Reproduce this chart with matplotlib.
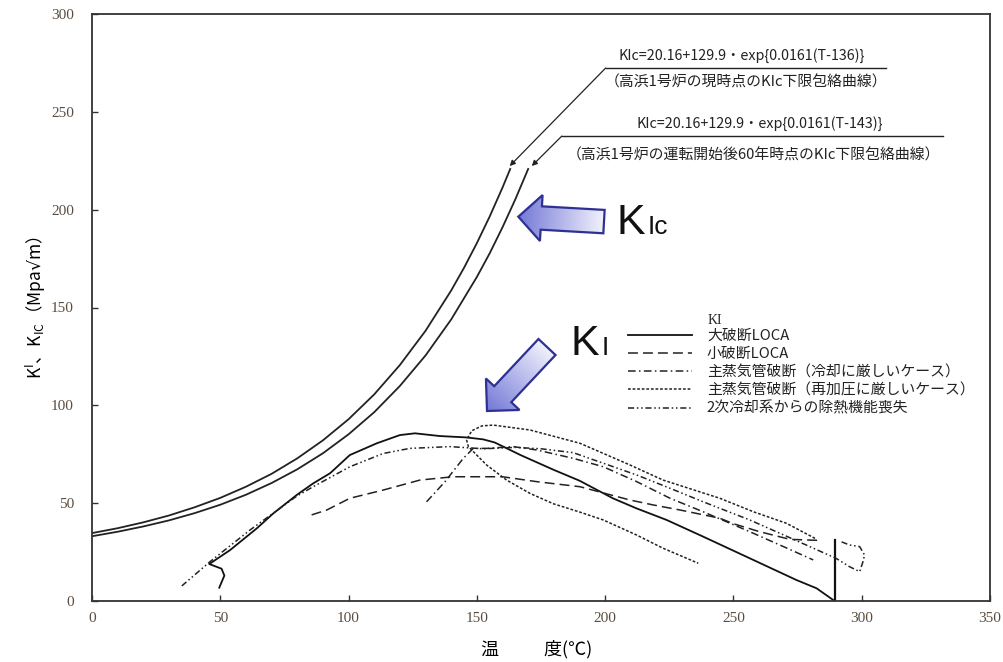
import numpy as np
import matplotlib
matplotlib.use('Agg')
import matplotlib.pyplot as plt
from matplotlib.patches import Polygon

# KIc lower envelope curves (temperature degC, MPa√m)
t_now = [0, 10, 20, 30, 40, 50, 60, 70, 80, 90, 100, 110, 120, 130, 140, 145, 150, 155, 160, 163]
kic_now = [34.7, 37.2, 40.2, 43.7, 47.9, 52.7, 58.4, 65.0, 72.9, 82.1, 92.9, 105.6, 120.6, 138.1,
           158.7, 170.3, 182.9, 196.5, 211.3, 220.8]
t_60y = [0, 10, 20, 30, 40, 50, 60, 70, 80, 90, 100, 110, 120, 130, 140, 150, 155, 160, 165, 170]
kic_60y = [33.1, 35.4, 38.1, 41.2, 44.9, 49.2, 54.3, 60.3, 67.3, 75.5, 85.2, 96.5, 109.9, 125.5,
           143.9, 165.6, 177.7, 191.0, 205.3, 220.8]

# KI transients
t_lloca = [49.6, 51.6, 50.5, 45.7, 53.8, 64.2, 70.7, 79.8, 86.2, 92.8, 100.5, 111.0, 120.0, 125.9,
           135.6, 146.0, 152.5, 157.0, 167.0, 180.0, 190.0, 203.0, 212.3, 224.0, 238.2, 255.1,
           274.6, 282.4, 288.9]
k_lloca = [6.8, 13.0, 16.5, 18.9, 26.0, 37.1, 44.8, 54.2, 60.1, 65.3, 74.6, 80.6, 84.8, 85.7,
           84.3, 83.6, 82.6, 81.0, 74.6, 67.0, 61.5, 52.5, 47.3, 41.4, 32.9, 22.6, 10.7, 6.5, 0.5]
t_lloca_end = [289.5, 289.5]
k_lloca_end = [0.0, 31.0]

t_sloca = [85.6, 91.5, 100.5, 113.5, 127.8, 140.7, 160.0, 173.3, 190.2, 209.7, 218.7, 229.2,
           244.7, 250.0, 260.0, 272.0, 283.0]
k_sloca = [44.0, 46.5, 52.5, 56.7, 61.8, 63.5, 63.5, 61.0, 58.4, 51.6, 49.1, 46.5, 42.3, 39.5,
           35.5, 31.5, 31.0]

t_mslb_c = [130.4, 137.6, 144.7, 148.6, 153.8, 164.2, 173.3, 187.6, 199.3, 212.3, 225.3, 238.2,
            247.3, 256.4, 270.0, 281.1]
k_mslb_c = [50.7, 61.0, 72.9, 78.0, 78.0, 78.9, 77.2, 72.9, 68.6, 61.0, 52.5, 45.6, 40.5, 35.4,
            27.5, 21.0]

t_mslb_r = [281.8, 274.6, 270.7, 258.0, 244.7, 222.6, 209.7, 190.2, 170.7, 156.4, 152.0, 148.0,
            146.0, 146.7, 153.8, 161.6, 170.7, 179.8, 190.0, 199.3, 212.3, 222.5, 236.3]
k_mslb_r = [32.0, 37.0, 39.7, 45.5, 52.5, 61.8, 69.5, 80.6, 87.4, 89.9, 89.5, 87.0, 82.3, 78.9,
            69.5, 61.8, 55.0, 49.7, 45.5, 41.4, 33.7, 27.0, 19.3]

t_loss = [35.0, 46.0, 61.6, 79.8, 86.2, 100.5, 113.5, 123.9, 139.5, 152.5, 165.0, 175.0, 187.6,
          199.3, 212.3, 225.3, 238.2, 256.4, 270.0, 290.0, 295.3, 299.2, 300.5, 301.1, 299.2,
          295.3, 292.0]
k_loss = [7.7, 20.1, 36.3, 53.6, 58.4, 68.6, 75.4, 78.0, 78.9, 77.8, 78.5, 77.8, 75.8, 70.4,
          64.4, 57.6, 50.7, 41.4, 33.5, 21.8, 17.5, 15.0, 20.1, 23.5, 27.8, 28.6, 30.3]

labels = ['大破断LOCA', '小破断LOCA', '主蒸気管破断（冷却に厳しいケース）',
          '主蒸気管破断（再加圧に厳しいケース）', '2次冷却系からの除熱機能喪失']

jp = 'Noto Sans CJK JP'

fig = plt.figure(figsize=(10.04, 6.62), dpi=100)
ax = fig.add_axes([92 / 1004, 61 / 662, 898 / 1004, 587 / 662])

ax.plot(t_now, kic_now, color='#222222', lw=1.3)
ax.plot(t_60y, kic_60y, color='#222222', lw=1.3)

lw = 1.1
h1, = ax.plot(t_lloca, k_lloca, color='#111111', lw=1.3)
ax.plot(t_lloca_end, k_lloca_end, color='#111111', lw=1.6)
h2, = ax.plot(t_sloca, k_sloca, color='#222222', lw=lw, dashes=(6.5, 3.3))
h3, = ax.plot(t_mslb_c, k_mslb_c, color='#222222', lw=lw, dashes=(5, 2.2, 1, 2.2))
h4, = ax.plot(t_mslb_r, k_mslb_r, color='#222222', lw=lw, dashes=(1.8, 1.2))
h5, = ax.plot(t_loss, k_loss, color='#222222', lw=lw, dashes=(4, 1.8, 1, 1.8, 1, 1.8))

ax.set_xlim(0, 350)
ax.set_ylim(0, 300)
ax.set_xticks(range(0, 351, 50))
ax.set_yticks(range(0, 301, 50))
ax.tick_params(direction='in', length=4, width=1, colors='#333333', labelcolor='#5a4d40')
ax.tick_params(axis='x', pad=8)
ax.tick_params(axis='y', pad=13)
for lab in ax.get_xticklabels() + ax.get_yticklabels():
    lab.set_fontfamily('Liberation Serif')
    lab.set_fontsize(11)
for sp in ax.spines.values():
    sp.set_linewidth(1.3)
    sp.set_color('#333333')

ax.set_ylabel('K$^{\\mathregular{I}}$、K$_{\\mathregular{IC}}$（Mpa$\u221a$m）', fontfamily=jp,
              fontsize=12.5)
ax.yaxis.set_label_coords(-0.049, 0.5)
ax.set_xlabel('温\u3000\u3000\u2002度(℃)', fontfamily=jp, fontsize=13)
ax.xaxis.set_label_coords(0.4955, -0.066)

leg = ax.legend([h1, h2, h3, h4, h5], labels, loc='upper left', bbox_to_anchor=(0.597, 0.463),
                frameon=False, borderpad=0, borderaxespad=0, handlelength=4.3,
                handletextpad=1.0, labelspacing=0.27, prop={'family': jp, 'size': 10.7})
for t in leg.get_texts():
    t.set_color('#222222')

# leader lines and formulas for the envelope curves
ax.plot([200.2, 309.3], [272.4, 272.4], color='#222222', lw=1.0, clip_on=False)
ax.annotate('', xy=(162.8, 222.3), xytext=(200.2, 272.4),
            arrowprops=dict(arrowstyle='-|>', lw=0.9, color='#222222', mutation_scale=8,
                            shrinkA=0, shrinkB=0))
ax.plot([183.1, 331.5], [237.6, 237.6], color='#222222', lw=1.0, clip_on=False)
ax.annotate('', xy=(171.4, 222.3), xytext=(183.1, 237.6),
            arrowprops=dict(arrowstyle='-|>', lw=0.9, color='#222222', mutation_scale=8,
                            shrinkA=0, shrinkB=0))
ax.text(253.2, 279.0, 'KIc=20.16+129.9・exp{0.0161(T-136)}', ha='center', va='center',
        fontfamily=jp, fontsize=10.3, color='#222222')
ax.text(254.8, 265.2, '（高浜1号炉の現時点のKIc下限包絡曲線）', ha='center', va='center',
        fontfamily=jp, fontsize=10.7, color='#222222')
ax.text(260.2, 243.8, 'KIc=20.16+129.9・exp{0.0161(T-143)}', ha='center', va='center',
        fontfamily=jp, fontsize=10.3, color='#222222')
ax.text(257.9, 227.9, '（高浜1号炉の運転開始後60年時点のKIc下限包絡曲線）', ha='center', va='center',
        fontfamily=jp, fontsize=10.7, color='#222222')

# overlay in pixel units for the callout arrows and big labels
ov = fig.add_axes([0, 0, 1, 1])
ov.set_xlim(0, 1004)
ov.set_ylim(662, 0)
ov.axis('off')
ov.patch.set_visible(False)


def block_arrow(tail, tip, shaft_hw=11.7, head_hw=23, head_len=23):
    tail = np.array(tail, float)
    tip = np.array(tip, float)
    d = tip - tail
    L = np.hypot(*d)
    u = d / L
    n = np.array([-u[1], u[0]])
    base = tip - u * head_len
    pts = [tail + n * shaft_hw, base + n * shaft_hw, base + n * head_hw, tip,
           base - n * head_hw, base - n * shaft_hw, tail - n * shaft_hw]
    poly = Polygon(pts, closed=True, facecolor='none', edgecolor='#2e3192', lw=1.6, zorder=3)
    ov.add_patch(poly)
    xs = [p[0] for p in pts]
    ys = [p[1] for p in pts]
    x0, x1, y0, y1 = min(xs) - 2, max(xs) + 2, min(ys) - 2, max(ys) + 2
    gx, gy = np.meshgrid(np.linspace(x0, x1, 200), np.linspace(y0, y1, 200))
    s = np.clip(((gx - tip[0]) * -u[0] + (gy - tip[1]) * -u[1]) / L, 0, 1)
    c0 = np.array([0.45, 0.47, 0.84])
    c1 = np.array([0.95, 0.95, 0.99])
    img = c0 + (c1 - c0) * s[..., None]
    im = ov.imshow(img, extent=(x0, x1, y0, y1), origin='lower', aspect='auto', zorder=2,
                   interpolation='bilinear')
    im.set_clip_path(poly)


block_arrow((604, 221.6), (518.3, 216.7))
block_arrow((547, 347), (487, 411))
ov.set_xlim(0, 1004)
ov.set_ylim(662, 0)

ov.text(617, 234, 'K', fontfamily='Liberation Sans', fontsize=31, va='baseline', color='#111111')
ov.text(648, 234, 'Ic', fontfamily='Liberation Sans', fontsize=19, va='baseline', color='#111111')
ov.text(571, 355, 'K', fontfamily='Liberation Sans', fontsize=31, va='baseline', color='#111111')
ov.text(602, 355, 'I', fontfamily='Liberation Sans', fontsize=19, va='baseline', color='#111111')
ov.text(708, 321, 'KI', fontfamily='Liberation Serif', fontsize=10, va='center', color='#222222')

fig.savefig('out.png', dpi=100)
